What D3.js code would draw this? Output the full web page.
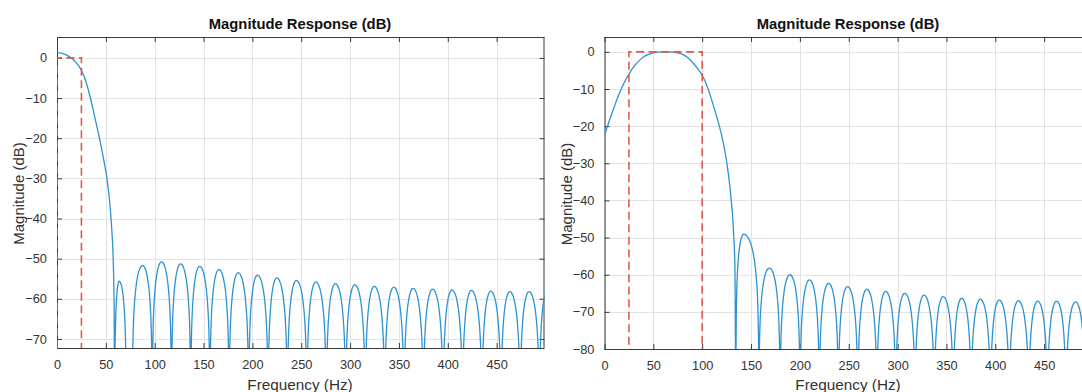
<!DOCTYPE html>
<html><head><meta charset="utf-8">
<script src="https://cdn.jsdelivr.net/npm/d3@7"></script>
<style>
body{margin:0;background:#fff}
svg{display:block;font-family:"Liberation Sans",Arial,Helvetica,sans-serif}
</style>
</head><body>
<svg id="c" width="1082" height="392"></svg>
<script>
// ---------- data ----------
const chartTitle = "Magnitude Response (dB)";
const xLabel = "Frequency (Hz)";
const yLabel = "Magnitude (dB)";
const xTicks = [0, 50, 100, 150, 200, 250, 300, 350, 400, 450];
const leftYTicks = [0, -10, -20, -30, -40, -50, -60, -70];
const rightYTicks = [0, -10, -20, -30, -40, -50, -60, -70, -80];
const xDomain = [0, 499];
const leftYDomain = [-72.25, 5.2];
const rightYDomain = [-80, 4];

// Left (lowpass) main lobe
const leftMainFreq = [0, 5, 10, 15, 20, 25, 30, 35, 40, 44, 48, 51, 54, 56, 57.5, 58.5, 59];
const leftMainDb   = [1.3, 1.15, 0.7, -0.1, -1.3, -3.1, -6.2, -10.8, -16.2, -20.6, -25.6, -29.8, -36, -42.5, -50, -62, -95];
// Left sidelobes: left null, right null, peak frequency, peak level
const leftLobeNullL = [59, 77, 97.5, 117.2, 136.9, 156.5, 176.2, 196.2, 216.1, 235.8, 255.8, 275.7, 295.5, 315.5, 335.5, 355.2, 375, 395.2, 415.1, 435, 454.5, 474.1, 493.8];
const leftLobeNullR = [71, 97.5, 117.2, 136.9, 156.5, 176.2, 196.2, 216.1, 235.8, 255.8, 275.7, 295.5, 315.5, 335.5, 355.2, 375, 395.2, 415.1, 435, 454.5, 474.1, 493.8, 511];
const leftLobePeakF = [63.7, 87.6, 107, 126.5, 146, 165.8, 185.5, 205.2, 225, 245, 265, 285, 304.8, 324.8, 344.7, 364.5, 384.4, 404.3, 424.2, 444, 463.5, 483.2, 501.5];
const leftLobePeakDb = [-55.6, -51.7, -50.8, -51.3, -51.9, -52.7, -53.5, -54.1, -54.8, -55.4, -55.8, -56.2, -56.5, -56.9, -57.1, -57.4, -57.6, -57.8, -57.9, -58.1, -58.2, -58.2, -58.3];

// Right (bandpass) main lobe
const rightMainFreq = [0, 5, 10, 15, 20, 25, 30, 35, 40, 45, 50, 55, 62.5, 70, 75, 80, 85, 90, 95, 100, 105, 110, 115, 120, 125, 129, 132, 133.5, 134.5];
const rightMainDb   = [-22.5, -18.5, -14.8, -11.3, -8.4, -6.0, -4.0, -2.5, -1.4, -0.7, -0.25, -0.05, 0, -0.05, -0.25, -0.7, -1.5, -2.8, -4.4, -6.3, -9.2, -13.2, -17.6, -22.6, -29.5, -38, -48, -58, -95];
const rightLobeNullL = [134.5, 158, 179.8, 200.2, 219.9, 239.4, 259.3, 278.8, 298.1, 317.9, 337.6, 357, 375.3, 395.1, 414.3, 434.3, 453.4, 472.4, 492];
const rightLobeNullR = [158, 179.8, 200.2, 219.9, 239.4, 259.3, 278.8, 298.1, 317.9, 337.6, 357, 375.3, 395.1, 414.3, 434.3, 453.4, 472.4, 492, 511.5];
const rightLobePeakF = [142.5, 168.8, 189.8, 209.8, 229.4, 248.8, 268.5, 287.8, 307.3, 327, 346.6, 365.6, 384.7, 404.1, 423.6, 443.4, 462.8, 482.2, 501.5];
const rightLobePeakDb = [-49.1, -58.2, -60.0, -61.4, -62.3, -63.2, -63.9, -64.5, -65.0, -65.5, -65.9, -66.3, -66.6, -66.8, -67.0, -67.1, -67.1, -67.3, -67.4];

// Shape of one half of a sidelobe (fraction from null to peak, dB below peak)
const lobeShapeT  = [0, 0.02, 0.05, 0.1, 0.2, 0.3, 0.4, 0.5, 0.6, 0.7, 0.8, 0.9, 1];
const lobeShapeDb = [-95, -30, -22, -16, -10.2, -6.9, -4.6, -3.0, -1.8, -1.0, -0.44, -0.11, 0];

// Masks (red dashed)
const leftMaskFreq = [0, 0, 25, 25];
const leftMaskDb = [-200, 0, 0, -200];
const rightMaskFreq = [25, 25, 100, 100];
const rightMaskDb = [-200, 0, 0, -200];

// ---------- drawing ----------
const svg = d3.select("#c");
const W = 1082, H = 392;
svg.append("rect").attr("width", W).attr("height", H).attr("fill", "#fff");

const curveColor = "#2d93d3";
const maskColor = "#df5a4c";
const axisColor = "#3a3a3a";
const gridColor = "#e3e3e3";
const textColor = "#333333";

function buildCurve(mf, md, nl, nr, pf, pd) {
  const pts = mf.map((f, i) => [f, md[i]]);
  nl.forEach((L, i) => {
    const R = nr[i], P = pf[i], D = pd[i];
    lobeShapeT.forEach((t, k) => {
      const f = L + t * (P - L);
      if (pts.length && Math.abs(pts[pts.length - 1][0] - f) < 1e-6) return;
      pts.push([f, D + lobeShapeDb[k]]);
    });
    for (let k = lobeShapeT.length - 2; k >= 0; k--) {
      pts.push([R - lobeShapeT[k] * (R - P), D + lobeShapeDb[k]]);
    }
  });
  return pts;
}

function drawChart(id, box, yDomain, yTicks, curvePts, maskF, maskD) {
  const g = svg.append("g");
  const x = d3.scaleLinear().domain(xDomain).range([box.left, box.right]);
  const y = d3.scaleLinear().domain(yDomain).range([box.bottom, box.top]);
  const clipId = "clip" + id;
  svg.append("clipPath").attr("id", clipId).append("rect")
    .attr("x", box.left).attr("y", box.top)
    .attr("width", box.right - box.left).attr("height", box.bottom - box.top);

  // grid
  const grid = g.append("g").attr("stroke", gridColor).attr("stroke-width", 1);
  xTicks.forEach(t => grid.append("line")
    .attr("x1", Math.round(x(t)) + 0.5).attr("x2", Math.round(x(t)) + 0.5)
    .attr("y1", box.top).attr("y2", box.bottom));
  yTicks.forEach(t => grid.append("line")
    .attr("y1", Math.round(y(t)) + 0.5).attr("y2", Math.round(y(t)) + 0.5)
    .attr("x1", box.left).attr("x2", box.right));

  // axes via d3 axis generators (ticks inside)
  const bottomAxis = d3.axisBottom(x).tickValues(xTicks).tickSize(-5).tickPadding(12).tickFormat(d3.format("d"));
  const topAxis = d3.axisTop(x).tickValues(xTicks).tickSize(-5).tickFormat("");
  const leftAxis = d3.axisLeft(y).tickValues(yTicks).tickSize(-5).tickPadding(10).tickFormat(d3.format("d"));
  const rightAxis = d3.axisRight(y).tickValues(yTicks).tickSize(-5).tickFormat("");

  function style(sel) {
    sel.select(".domain").attr("stroke", axisColor).attr("stroke-width", 1);
    sel.selectAll(".tick line").attr("stroke", axisColor);
    sel.selectAll(".tick text").attr("fill", textColor).attr("font-size", 12.8)
      .attr("font-family", '"Liberation Sans",Arial,sans-serif');
  }
  const gb = g.append("g").attr("transform", `translate(0,${box.bottom})`).call(bottomAxis).call(style);
  gb.select(".domain").attr("d", `M${box.left},0.5H${box.right}`);
  const gt = g.append("g").attr("transform", `translate(0,${box.top})`).call(topAxis).call(style);
  gt.select(".domain").attr("d", `M${box.left},0.5H${box.right}`);
  const gl = g.append("g").attr("transform", `translate(${box.left},0)`).call(leftAxis).call(style);
  gl.select(".domain").attr("d", `M0.5,${box.top}V${box.bottom}`);
  const gr = g.append("g").attr("transform", `translate(${box.right},0)`).call(rightAxis).call(style);
  gr.select(".domain").attr("d", `M-0.5,${box.top}V${box.bottom}`);

  // curve
  const line = d3.line().x(d => x(d[0])).y(d => y(d[1])).curve(d3.curveMonotoneX);
  g.append("path").datum(curvePts).attr("clip-path", `url(#${clipId})`)
    .attr("d", line).attr("fill", "none").attr("stroke", curveColor).attr("stroke-width", 1.3);

  // mask
  const mline = d3.line().x(d => x(d[0])).y(d => y(d[1]));
  g.append("path").datum(maskF.map((f, i) => [f, maskD[i]]))
    .attr("clip-path", `url(#${clipId})`)
    .attr("d", mline).attr("fill", "none").attr("stroke", maskColor)
    .attr("stroke-width", 1.6).attr("stroke-dasharray", "8,4.5");

  // texts
  const cx = (box.left + box.right) / 2;
  g.append("text").attr("x", box.titleX).attr("y", 29).attr("text-anchor", "middle")
    .attr("font-weight", "bold").attr("font-size", 14.8).attr("fill", "#111").text(chartTitle);
  g.append("text").attr("x", box.xlabX).attr("y", 390).attr("text-anchor", "middle")
    .attr("font-size", 15.3).attr("fill", textColor).text(xLabel);
  const cy = (box.top + box.bottom) / 2 + 1;
  g.append("text").attr("transform", `translate(${box.left - box.ylabOff},${cy}) rotate(-90)`)
    .attr("text-anchor", "middle").attr("font-size", 15).attr("fill", textColor).text(yLabel);
}

const leftCurve = buildCurve(leftMainFreq, leftMainDb, leftLobeNullL, leftLobeNullR, leftLobePeakF, leftLobePeakDb);
const rightCurve = buildCurve(rightMainFreq, rightMainDb, rightLobeNullL, rightLobeNullR, rightLobePeakF, rightLobePeakDb);

drawChart("L", {left: 57, right: 544.5, top: 37, bottom: 348, ylabOff: 33, titleX: 300, xlabX: 300}, leftYDomain, leftYTicks, leftCurve, leftMaskFreq, leftMaskDb);
drawChart("R", {left: 604.5, right: 1092, top: 37, bottom: 349, ylabOff: 33, titleX: 848, xlabX: 848}, rightYDomain, rightYTicks, rightCurve, rightMaskFreq, rightMaskDb);
</script>
</body></html>
